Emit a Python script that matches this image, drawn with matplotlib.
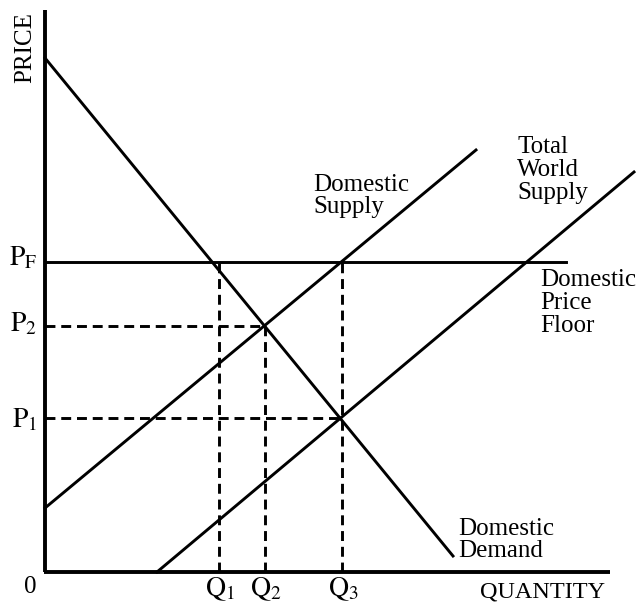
import numpy as np
import matplotlib.pyplot as plt

plt.rcParams['font.family'] = ['Liberation Serif', 'DejaVu Serif']
plt.rcParams['mathtext.fontset'] = 'stix'

# curve end points (quantity, price)
demand_q = [0, 408]
demand_p = [514, 16]
dom_supply_q = [0, 431]
dom_supply_p = [64, 422]
world_supply_q = [112, 589]
world_supply_p = [0, 400]

# price floor and equilibrium levels
price_floor = 310
floor_end_q = 521
p_levels = [246, 154]          # P2, P1
q_levels = [174, 220, 297]     # Q1, Q2, Q3

fig = plt.figure(figsize=(6.37, 6.04), dpi=100)
ax = fig.add_axes([0, 0, 1, 1])
ax.set_xlim(-45, 592)
ax.set_ylim(-32, 572)
ax.axis('off')

lw = 2.1
# axes
ax.plot([0, 0], [0, 562], color='black', lw=2.8, solid_capstyle='butt')
ax.plot([-1, 565], [0, 0], color='black', lw=2.8, solid_capstyle='butt')

ax.plot(demand_q, demand_p, color='black', lw=lw)
ax.plot(dom_supply_q, dom_supply_p, color='black', lw=lw)
ax.plot(world_supply_q, world_supply_p, color='black', lw=lw)
ax.plot([0, floor_end_q], [price_floor, price_floor], color='black', lw=lw)

dash = dict(color='black', lw=lw, linestyle=(0, (3.4, 2.0)))
# P2 / Q2 and P1 / Q3
ax.plot([0, q_levels[1]], [p_levels[0], p_levels[0]], **dash)
ax.plot([q_levels[1], q_levels[1]], [0, p_levels[0]], **dash)
ax.plot([0, q_levels[2]], [p_levels[1], p_levels[1]], **dash)
ax.plot([q_levels[0], q_levels[0]], [0, price_floor], **dash)
ax.plot([q_levels[2], q_levels[2]], [0, price_floor], **dash)

fs = 18
ax.text(-20, 524, 'PRICE', rotation=90, ha='center', va='center', fontsize=fs)
ax.text(-15, -15, '0', ha='center', va='center', fontsize=fs)
ax.text(498, -20, 'QUANTITY', ha='center', va='center', fontsize=17.5)

ax.text(-8, 307, r'$\mathrm{P}_\mathrm{F}$', ha='right', va='baseline', fontsize=20)
ax.text(-8, p_levels[0] - 5, r'$\mathrm{P}_2$', ha='right', va='baseline', fontsize=20)
ax.text(-8, p_levels[1] - 9, r'$\mathrm{P}_1$', ha='right', va='baseline', fontsize=20)
for q, lab in zip(q_levels, [r'$\mathrm{Q}_1$', r'$\mathrm{Q}_2$', r'$\mathrm{Q}_3$']):
    ax.text(q + 1, -24, lab, ha='center', va='baseline', fontsize=20)

ax.text(268, 376, 'Domestic\nSupply', ha='left', va='center', fontsize=fs, linespacing=1.05)
ax.text(472, 402, 'Total\nWorld\nSupply', ha='left', va='center', fontsize=fs, linespacing=1.05)
ax.text(495, 269, 'Domestic\nPrice\nFloor', ha='left', va='center', fontsize=fs, linespacing=1.05)
ax.text(413, 32, 'Domestic\nDemand', ha='left', va='center', fontsize=fs, linespacing=1.05)

fig.savefig('out.png', dpi=100)
